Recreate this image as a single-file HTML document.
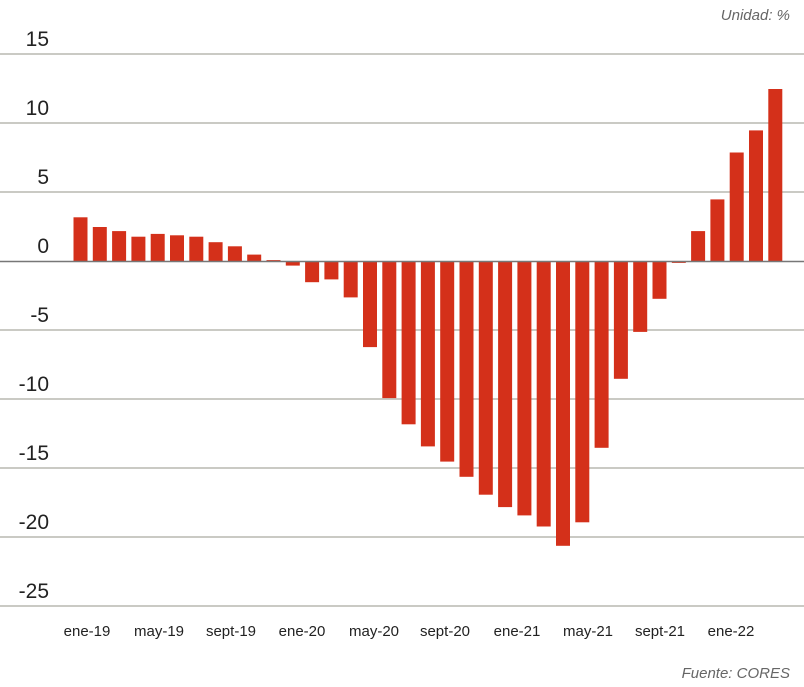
<!DOCTYPE html>
<html><head><meta charset="utf-8"><style>
html,body{margin:0;padding:0;background:#fff;}
svg{display:block;}
text{font-family:"Liberation Sans",sans-serif;}
</style></head><body>
<svg width="804" height="687" viewBox="0 0 804 687" xmlns="http://www.w3.org/2000/svg">
<g stroke="#b8b8b0" stroke-width="1.5">
<line x1="0" x2="804" y1="54" y2="54"/>
<line x1="0" x2="804" y1="123" y2="123"/>
<line x1="0" x2="804" y1="192" y2="192"/>
<line x1="0" x2="804" y1="330" y2="330"/>
<line x1="0" x2="804" y1="399" y2="399"/>
<line x1="0" x2="804" y1="468" y2="468"/>
<line x1="0" x2="804" y1="537" y2="537"/>
<line x1="0" x2="804" y1="606" y2="606"/>
</g>
<g fill="#d4301a">
<rect x="73.5" y="217.3" width="14" height="44.2"/>
<rect x="92.8" y="227.0" width="14" height="34.5"/>
<rect x="112.1" y="231.1" width="14" height="30.4"/>
<rect x="131.4" y="236.7" width="14" height="24.8"/>
<rect x="150.7" y="233.9" width="14" height="27.6"/>
<rect x="170.0" y="235.3" width="14" height="26.2"/>
<rect x="189.3" y="236.7" width="14" height="24.8"/>
<rect x="208.6" y="242.2" width="14" height="19.3"/>
<rect x="227.9" y="246.3" width="14" height="15.2"/>
<rect x="247.2" y="254.6" width="14" height="6.9"/>
<rect x="266.5" y="260.1" width="14" height="1.4"/>
<rect x="285.8" y="261.5" width="14" height="4.1"/>
<rect x="305.1" y="261.5" width="14" height="20.7"/>
<rect x="324.4" y="261.5" width="14" height="17.9"/>
<rect x="343.7" y="261.5" width="14" height="35.9"/>
<rect x="363.0" y="261.5" width="14" height="85.6"/>
<rect x="382.3" y="261.5" width="14" height="136.6"/>
<rect x="401.6" y="261.5" width="14" height="162.8"/>
<rect x="420.9" y="261.5" width="14" height="184.9"/>
<rect x="440.2" y="261.5" width="14" height="200.1"/>
<rect x="459.5" y="261.5" width="14" height="215.3"/>
<rect x="478.8" y="261.5" width="14" height="233.2"/>
<rect x="498.1" y="261.5" width="14" height="245.6"/>
<rect x="517.4" y="261.5" width="14" height="253.9"/>
<rect x="536.7" y="261.5" width="14" height="265.0"/>
<rect x="556.0" y="261.5" width="14" height="284.3"/>
<rect x="575.3" y="261.5" width="14" height="260.8"/>
<rect x="594.6" y="261.5" width="14" height="186.3"/>
<rect x="613.9" y="261.5" width="14" height="117.3"/>
<rect x="633.2" y="261.5" width="14" height="70.4"/>
<rect x="652.5" y="261.5" width="14" height="37.3"/>
<rect x="671.8" y="261.5" width="14" height="1.4"/>
<rect x="691.1" y="231.1" width="14" height="30.4"/>
<rect x="710.4" y="199.4" width="14" height="62.1"/>
<rect x="729.7" y="152.5" width="14" height="109.0"/>
<rect x="749.0" y="130.4" width="14" height="131.1"/>
<rect x="768.3" y="89.0" width="14" height="172.5"/>
</g>
<line x1="0" x2="804" y1="261.5" y2="261.5" stroke="#777" stroke-width="1.5"/>
<g fill="#222" font-size="21" text-anchor="end">
<text x="49" y="46">15</text>
<text x="49" y="115">10</text>
<text x="49" y="184">5</text>
<text x="49" y="253">0</text>
<text x="49" y="322">-5</text>
<text x="49" y="391">-10</text>
<text x="49" y="460">-15</text>
<text x="49" y="529">-20</text>
<text x="49" y="598">-25</text>
</g>
<g fill="#222" font-size="15" text-anchor="middle">
<text x="87" y="636">ene-19</text>
<text x="159" y="636">may-19</text>
<text x="231" y="636">sept-19</text>
<text x="302" y="636">ene-20</text>
<text x="374" y="636">may-20</text>
<text x="445" y="636">sept-20</text>
<text x="517" y="636">ene-21</text>
<text x="588" y="636">may-21</text>
<text x="660" y="636">sept-21</text>
<text x="731" y="636">ene-22</text>
</g>
<text x="790" y="20" font-size="15" font-style="italic" fill="#666" text-anchor="end">Unidad: %</text>
<text x="790" y="678" font-size="15" font-style="italic" fill="#666" text-anchor="end">Fuente: CORES</text>
</svg>
</body></html>
